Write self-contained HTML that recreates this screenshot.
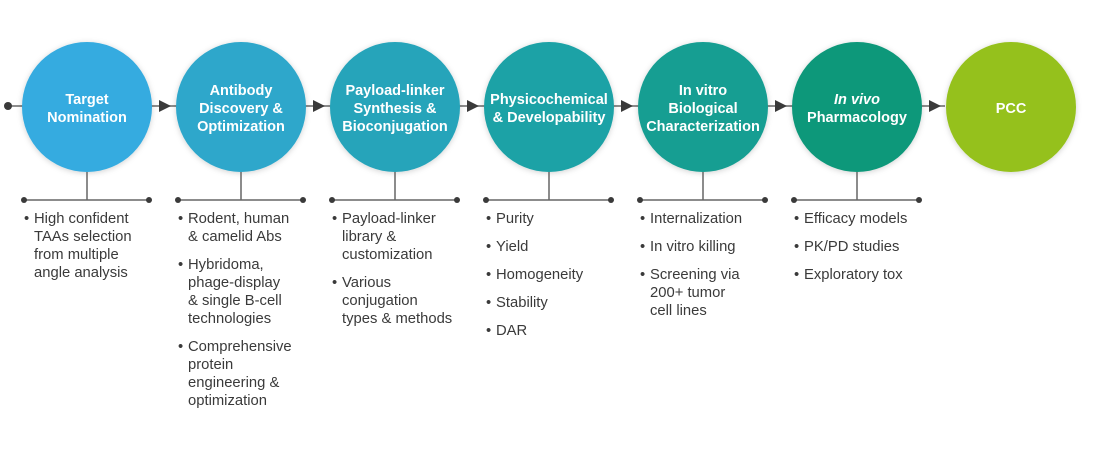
<!DOCTYPE html>
<html><head><meta charset="utf-8"><style>
html,body{margin:0;padding:0;background:#fff;width:1100px;height:460px;overflow:hidden}
svg{display:block}
.t{font-family:"Liberation Sans",sans-serif;font-weight:bold;font-size:14.5px;fill:#fff;text-anchor:middle}
.b{font-family:"Liberation Sans",sans-serif;font-size:14.8px;fill:#3a3a3a}
</style></head><body>
<svg width="1100" height="460" viewBox="0 0 1100 460">
<defs><filter id="sh" x="-20%" y="-20%" width="140%" height="140%"><feDropShadow dx="0" dy="1" stdDeviation="3" flood-color="#000" flood-opacity="0.18"/></filter></defs>
<line x1="8" y1="106" x2="945" y2="106" stroke="#666" stroke-width="1.5"/>
<circle cx="8" cy="106" r="4" fill="#3a3a3a"/>
<g fill="#3a3a3a">
<polygon points="159,100 171,106 159,112"/>
<polygon points="313,100 325,106 313,112"/>
<polygon points="467,100 479,106 467,112"/>
<polygon points="621,100 633,106 621,112"/>
<polygon points="775,100 787,106 775,112"/>
<polygon points="929,100 941,106 929,112"/>
</g>
<g filter="url(#sh)">
<circle cx="87" cy="107" r="65" fill="#35ABE0"/>
<circle cx="241" cy="107" r="65" fill="#2EA7CB"/>
<circle cx="395" cy="107" r="65" fill="#27A4BA"/>
<circle cx="549" cy="107" r="65" fill="#1FA2A6"/>
<circle cx="703" cy="107" r="65" fill="#189E92"/>
<circle cx="857" cy="107" r="65" fill="#11987A"/>
<circle cx="1011" cy="107" r="65" fill="#95C11F"/>
</g>
<text class="t" x="87" y="104">Target</text><text class="t" x="87" y="122">Nomination</text>
<text class="t" x="241" y="95">Antibody</text><text class="t" x="241" y="113">Discovery &amp;</text><text class="t" x="241" y="131">Optimization</text>
<text class="t" x="395" y="95">Payload-linker</text><text class="t" x="395" y="113">Synthesis &amp;</text><text class="t" x="395" y="131">Bioconjugation</text>
<text class="t" x="549" y="104">Physicochemical</text><text class="t" x="549" y="122">&amp; Developability</text>
<text class="t" x="703" y="95">In vitro</text><text class="t" x="703" y="113">Biological</text><text class="t" x="703" y="131">Characterization</text>
<text class="t" x="857" y="104" font-style="italic">In vivo</text><text class="t" x="857" y="122">Pharmacology</text>
<text class="t" x="1011" y="113">PCC</text>
<g stroke="#666" stroke-width="1.5">
<line x1="87" y1="172" x2="87" y2="200"/><line x1="24" y1="200" x2="149" y2="200"/>
<line x1="241" y1="172" x2="241" y2="200"/><line x1="178" y1="200" x2="303" y2="200"/>
<line x1="395" y1="172" x2="395" y2="200"/><line x1="332" y1="200" x2="457" y2="200"/>
<line x1="549" y1="172" x2="549" y2="200"/><line x1="486" y1="200" x2="611" y2="200"/>
<line x1="703" y1="172" x2="703" y2="200"/><line x1="640" y1="200" x2="765" y2="200"/>
<line x1="857" y1="172" x2="857" y2="200"/><line x1="794" y1="200" x2="919" y2="200"/>
</g>
<g fill="#3a3a3a">
<circle cx="24" cy="200" r="3"/><circle cx="149" cy="200" r="3"/>
<circle cx="178" cy="200" r="3"/><circle cx="303" cy="200" r="3"/>
<circle cx="332" cy="200" r="3"/><circle cx="457" cy="200" r="3"/>
<circle cx="486" cy="200" r="3"/><circle cx="611" cy="200" r="3"/>
<circle cx="640" cy="200" r="3"/><circle cx="765" cy="200" r="3"/>
<circle cx="794" cy="200" r="3"/><circle cx="919" cy="200" r="3"/>
</g>
<g class="b">
<text class="b" x="24" y="223">•</text>
<text class="b" x="34" y="223">High confident</text><text class="b" x="34" y="241">TAAs selection</text><text class="b" x="34" y="259">from multiple</text><text class="b" x="34" y="277">angle analysis</text>

<text class="b" x="178" y="223">•</text><text class="b" x="188" y="223">Rodent, human</text><text class="b" x="188" y="241">&amp; camelid Abs</text>
<text class="b" x="178" y="269">•</text><text class="b" x="188" y="269">Hybridoma,</text><text class="b" x="188" y="287">phage-display</text><text class="b" x="188" y="305">&amp; single B-cell</text><text class="b" x="188" y="323">technologies</text>
<text class="b" x="178" y="351">•</text><text class="b" x="188" y="351">Comprehensive</text><text class="b" x="188" y="369">protein</text><text class="b" x="188" y="387">engineering &amp;</text><text class="b" x="188" y="405">optimization</text>

<text class="b" x="332" y="223">•</text><text class="b" x="342" y="223">Payload-linker</text><text class="b" x="342" y="241">library &amp;</text><text class="b" x="342" y="259">customization</text>
<text class="b" x="332" y="287">•</text><text class="b" x="342" y="287">Various</text><text class="b" x="342" y="305">conjugation</text><text class="b" x="342" y="323">types &amp; methods</text>

<text class="b" x="486" y="223">•</text><text class="b" x="496" y="223">Purity</text>
<text class="b" x="486" y="251">•</text><text class="b" x="496" y="251">Yield</text>
<text class="b" x="486" y="279">•</text><text class="b" x="496" y="279">Homogeneity</text>
<text class="b" x="486" y="307">•</text><text class="b" x="496" y="307">Stability</text>
<text class="b" x="486" y="335">•</text><text class="b" x="496" y="335">DAR</text>

<text class="b" x="640" y="223">•</text><text class="b" x="650" y="223">Internalization</text>
<text class="b" x="640" y="251">•</text><text class="b" x="650" y="251">In vitro killing</text>
<text class="b" x="640" y="279">•</text><text class="b" x="650" y="279">Screening via</text><text class="b" x="650" y="297">200+ tumor</text><text class="b" x="650" y="315">cell lines</text>

<text class="b" x="794" y="223">•</text><text class="b" x="804" y="223">Efficacy models</text>
<text class="b" x="794" y="251">•</text><text class="b" x="804" y="251">PK/PD studies</text>
<text class="b" x="794" y="279">•</text><text class="b" x="804" y="279">Exploratory tox</text>
</g>
</svg>
</body></html>
